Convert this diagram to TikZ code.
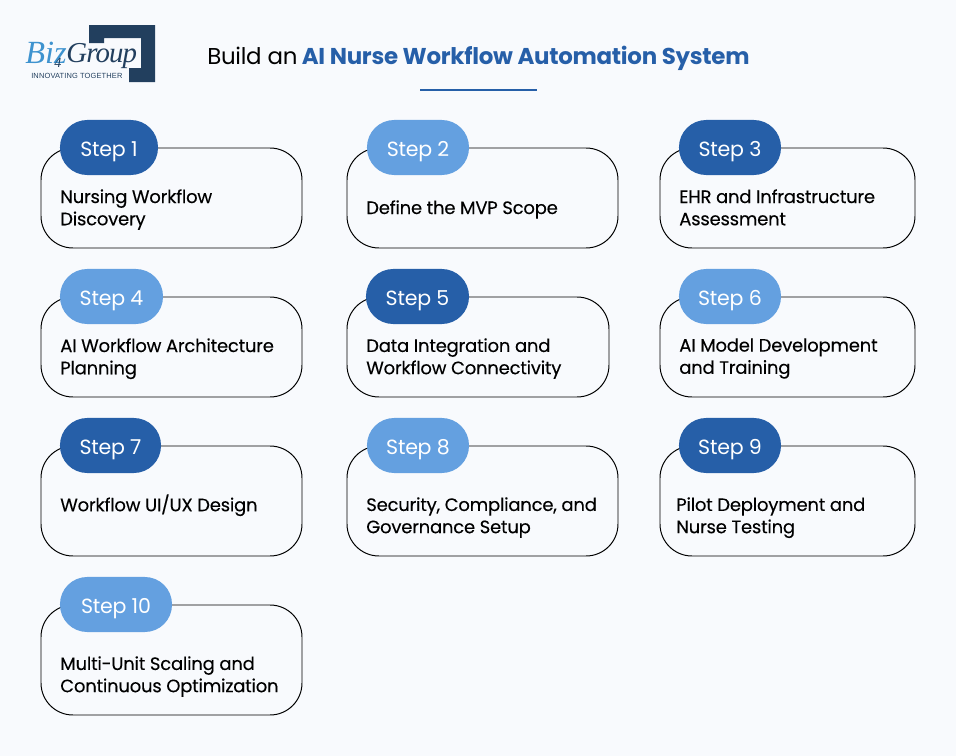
\documentclass[tikz,border=0pt]{standalone}
\usepackage{fontspec}
\setmainfont{Poppins}[LetterSpace=-1.2]
\newfontfamily\logofont{Liberation Serif}
\newfontfamily\taglinefont{Liberation Sans}
\usetikzlibrary{positioning}
\definecolor{darkstep}{HTML}{265FA8}
\definecolor{lightstep}{HTML}{64A0E0}
\definecolor{logonavy}{HTML}{223F5E}
\definecolor{logoblue}{HTML}{3E93CF}
\definecolor{pagebg}{HTML}{F8FAFD}
\tikzset{
  card/.style={draw=black,line width=0.7pt,rounded corners=0.8cm},
  pilldark/.style={fill=darkstep,text=white,rounded corners=0.68cm,minimum height=1.375cm,inner sep=0pt,font=\fontsize{14.8}{18}\selectfont},
  pilllight/.style={pilldark,fill=lightstep},
  steplabel/.style={text=white,inner sep=0pt,font=\fontsize{14.6}{18}\selectfont},
  cardtext/.style={anchor=north west,align=left,inner sep=0pt,text=black,font=\fontsize{12.8}{15.8}\selectfont\addfontfeature{FakeBold=0.15}},
}
\begin{document}
\begin{tikzpicture}[x=0.025cm,y=-0.025cm]
        \fill[pagebg] (0,0) rectangle (956,756);
        \useasboundingbox (0,0) rectangle (956,756);

        % logo
        \fill[logonavy] (89,25) -- (155,25) -- (155,82) -- (129,82) -- (129,68) -- (141,68) -- (141,38) -- (104,38) -- (104,43) -- (89,43) -- cycle;
        \node[anchor=west,inner sep=0pt,text=logoblue,font=\logofont\itshape\fontsize{23}{24}\selectfont] (logobiz) at (25,53) {Biz};
        \node[anchor=west,inner sep=0pt,text=logonavy,font=\logofont\itshape\fontsize{10}{10}\selectfont] (logofour) at (54,63) {4};
        \node[anchor=west,inner sep=0pt,text=logonavy,font=\logofont\itshape\addfontfeature{LetterSpace=-3}\fontsize{20.5}{24}\selectfont] (logogroup) at (66,56) {Group};
        \node[anchor=west,inner sep=0pt,text=logonavy,font=\taglinefont\addfontfeature{LetterSpace=2}\fontsize{5.3}{6}\selectfont] (tagline) at (31,76) {INNOVATING TOGETHER};

        % title
        \node[anchor=west,inner sep=0pt,font=\fontsize{16.3}{21}\selectfont] (title) at (207,58) {Build an\hspace{-1pt} \textcolor{darkstep}{\textbf{AI Nurse Workflow Automation System}}};
        \coordinate (ruleleft) at (420,90);
        \coordinate (ruleright) at (537,90);
        \draw[darkstep,line width=1.1pt] (ruleleft) -- (ruleright);

        % first row
        \draw[card] (41,148) rectangle (302,248);
        \draw[card] (347,148) rectangle (618,248);
        \draw[card] (660,148) rectangle (915,248);
        \node[pilldark,minimum width=2.45cm] (step1) at (109,147.5) {};
        \node[pilllight,minimum width=2.55cm] (step2) at (418,147.5) {};
        \node[pilldark,minimum width=2.55cm] (step3) at (730,147.5) {};
        \node[steplabel] (label1) at (109,152) {Step 1};
        \node[steplabel] (label2) at (418,152) {Step 2};
        \node[steplabel] (label3) at (730,152) {Step 3};
        \node[cardtext] (text1) at (60,189) {Nursing Workflow\\Discovery};
        \node[cardtext] (text2) at (366,200) {Define the MVP Scope};
        \node[cardtext] (text3) at (679,189) {EHR and Infrastructure\\Assessment};

        % second row
        \draw[card] (41,297) rectangle (302,397);
        \draw[card] (347,297) rectangle (609,397);
        \draw[card] (660,297) rectangle (915,397);
        \node[pilllight,minimum width=2.575cm] (step4) at (111.5,296.5) {};
        \node[pilldark,minimum width=2.575cm] (step5) at (417.5,296.5) {};
        \node[pilllight,minimum width=2.55cm] (step6) at (730,296.5) {};
        \node[steplabel] (label4) at (111.5,301) {Step 4};
        \node[steplabel] (label5) at (417.5,301) {Step 5};
        \node[steplabel] (label6) at (730,301) {Step 6};
        \node[cardtext] (text4) at (60,338) {AI Workflow Architecture\\Planning};
        \node[cardtext] (text5) at (366,338) {Data Integration and\\Workflow Connectivity};
        \node[cardtext] (text6) at (679,338) {AI Model Development\\and Training};

        % third row
        \draw[card] (41,446) rectangle (302,556);
        \draw[card] (347,446) rectangle (618,556);
        \draw[card] (660,446) rectangle (915,556);
        \node[pilldark,minimum width=2.525cm] (step7) at (110.5,445.5) {};
        \node[pilllight,minimum width=2.55cm] (step8) at (418,445.5) {};
        \node[pilldark,minimum width=2.55cm] (step9) at (730,445.5) {};
        \node[steplabel] (label7) at (110.5,450) {Step 7};
        \node[steplabel] (label8) at (418,450) {Step 8};
        \node[steplabel] (label9) at (730,450) {Step 9};
        \node[cardtext] (text7) at (60,494) {Workflow UI/UX Design};
        \node[cardtext] (text8) at (366,497) {Security, Compliance, and\\Governance Setup};
        \node[cardtext] (text9) at (676,497) {Pilot Deployment and\\Nurse Testing};

        % last row
        \draw[card] (41,605) rectangle (302,715);
        \node[pilllight,minimum width=2.8cm] (step10) at (116,604.5) {};
        \node[steplabel] (label10) at (116,609) {Step 10};
        \node[cardtext] (text10) at (60,656) {Multi-Unit Scaling and\\Continuous Optimization};

      \end{tikzpicture}
\end{document}
